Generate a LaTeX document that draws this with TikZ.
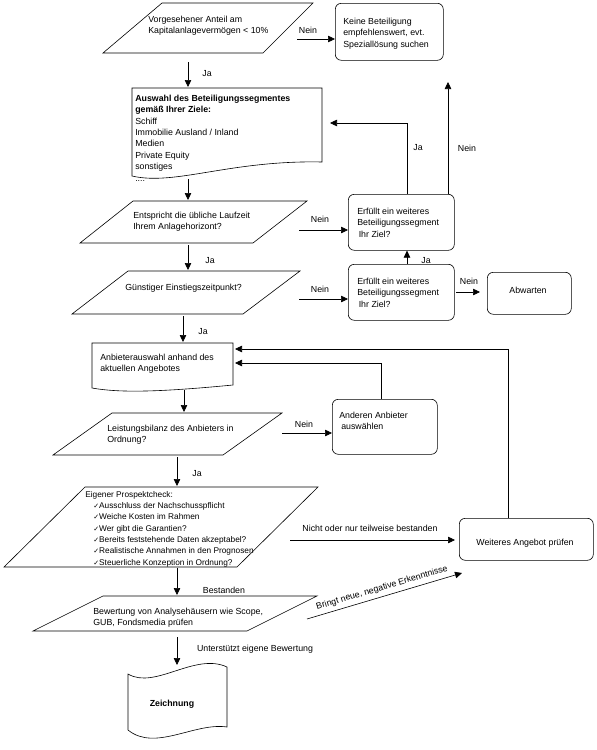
\documentclass[tikz,border=0pt]{standalone}
\usepackage{fontspec}
\setmainfont{Liberation Sans}
\newfontfamily\symfont{DejaVu Sans}
\usetikzlibrary{arrows.meta,calc}
\newcommand{\ck}{{\symfont\fontsize{7}{11.3}\selectfont ✓}}
\begin{document}
\begin{tikzpicture}[x=1pt,y=-1pt,line width=0.6pt,
  arr/.style={-{Triangle[length=7pt,width=6.5pt]}},
  lbl/.style={font=\fontsize{8.8}{10}\selectfont,inner sep=0pt},
  txt/.style={font=\fontsize{8.8}{11.3}\selectfont,align=left,inner sep=0pt,anchor=north west},
  rbox/.style={draw,rounded corners=6pt,inner sep=0pt,anchor=north west},
  shp/.style={draw,line join=miter}]
\useasboundingbox (0,0) rectangle (597,750);

% ---------- shapes ----------
\draw[shp] (162,3) -- (313,3) -- (263,53) -- (103,53) -- cycle;
\node[txt] (t1) at (148,16) {Vorgesehener Anteil am\\Kapitalanlagevermögen < 10\%};

\node[rbox,minimum width=108pt,minimum height=57pt] (keine) at (335,3) {};
\node[txt] (t2) at (343,18) {Keine Beteiligung\\empfehlenswert, evt.\\Speziallösung suchen};

\draw[shp] (132,88) -- (322,88) -- (322,162) .. controls (230,160) and (175,186) .. (132,176) -- cycle;
\node[txt] (t3) at (135,95) {\textbf{Auswahl des Beteiligungssegmentes}\\\textbf{gemäß Ihrer Ziele:}\\Schiff\\Immobilie Ausland / Inland\\Medien\\Private Equity\\sonstiges\\[1pt]....};

\draw[shp] (133,201) -- (307,201) -- (253,243) -- (80,243) -- cycle;
\node[txt] (t4) at (133,212) {Entspricht die übliche Laufzeit\\Ihrem Anlagehorizont?};

\node[rbox,minimum width=106pt,minimum height=56pt] (erf1) at (348,194) {};
\node[txt] (t5) at (357,208) {Erfüllt ein weiteres\\Beteiligungssegment\\\hspace{1.5pt}Ihr Ziel?};

\node[rbox,minimum width=106pt,minimum height=56pt] (erf2) at (348,264) {};
\node[txt] (t6) at (357,278) {Erfüllt ein weiteres\\Beteiligungssegment\\\hspace{1.5pt}Ihr Ziel?};

\node[rbox,minimum width=84pt,minimum height=42pt] (abw) at (487,272) {};
\node[lbl] (t7) at (528,290) {Abwarten};

\draw[shp] (128,271) -- (300,271) -- (243,314) -- (72,314) -- cycle;
\node[txt] (t8) at (125,284) {Günstiger Einstiegszeitpunkt?};

\draw[shp] (92,343) -- (233,343) -- (233,385) .. controls (160,392) and (120,393) .. (92,388) -- cycle;
\node[txt] (t9) at (100,354) {Anbieterauswahl anhand des\\aktuellen Angebotes};

\draw[shp] (112,413) -- (282,413) -- (223,455) -- (53,455) -- cycle;
\node[txt] (t10) at (107,425) {Leistungsbilanz des Anbieters in\\Ordnung?};

\node[rbox,minimum width=105pt,minimum height=55pt] (and) at (332,399) {};
\node[txt] (t11) at (339,412) {Anderen Anbieter\\\hspace{2pt}auswählen};

\draw[shp] (85,487) -- (318,487) -- (237,567) -- (4,567) -- cycle;
\node[txt,font=\fontsize{8.3}{11.3}\selectfont] (t12) at (85,491) {Eigener Prospektcheck:\\
\hspace{8pt}\ck Ausschluss der Nachschusspflicht\\
\hspace{8pt}\ck Weiche Kosten im Rahmen\\
\hspace{8pt}\ck Wer gibt die Garantien?\\
\hspace{8pt}\ck Bereits feststehende Daten akzeptabel?\\
\hspace{8pt}\ck Realistische Annahmen in den Prognosen\\
\hspace{8pt}\ck Steuerliche Konzeption in Ordnung?};

\node[rbox,minimum width=134pt,minimum height=42pt] (weit) at (459,518) {};
\node[lbl] (t13) at (525,543) {Weiteres Angebot prüfen};

\draw[shp] (103,596) -- (317,596) -- (247,631) -- (33,631) -- cycle;
\node[txt] (t14) at (93,608) {Bewertung von Analysehäusern wie Scope,\\GUB, Fondsmedia prüfen};

\draw[shp] (128,674) .. controls (155,690) and (195,652) .. (227,667) -- (227,727)
  .. controls (195,722) and (155,752) .. (128,730) -- cycle;
\node[lbl,font=\bfseries\fontsize{8.8}{10}\selectfont] (t15) at (172,704) {Zeichnung};

% ---------- connector end points ----------
\coordinate (a1s) at (188,62);   \coordinate (a1e) at (188,87);
\coordinate (a2s) at (297,39);
\coordinate (a3s) at (188,179);  \coordinate (a3e) at (188,200);
\coordinate (a4s) at (299,230);
\coordinate (a5s) at (188,245);  \coordinate (a5e) at (188,270);
\coordinate (a6s) at (299,299);
\coordinate (a8s) at (456,292);  \coordinate (a8e) at (480,292);
\coordinate (a9e) at (330,123);
\coordinate (a10e) at (448,82);
\coordinate (a11s) at (183,316); \coordinate (a11e) at (183,342);
\coordinate (a12s) at (184,390); \coordinate (a12e) at (184,412);
\coordinate (a13s) at (282,433);
\coordinate (a14e) at (235,363);
\coordinate (a15e) at (235,349);
\coordinate (a16s) at (177,457); \coordinate (a16e) at (177,486);
\coordinate (a17s) at (290,540); \coordinate (a17e) at (455,540);
\coordinate (a18s) at (177,568); \coordinate (a18e) at (177,595);
\coordinate (a19s) at (307,619); \coordinate (a19e) at (462,573);
\coordinate (a20s) at (177,637); \coordinate (a20e) at (177,665);

% ---------- connectors ----------
\draw[arr] (a1s) -- (a1e);
\draw[arr] (a2s) -- (a2s -| keine.west);
\draw[arr] (a3s) -- (a3e);
\draw[arr] (a4s) -- (a4s -| erf1.west);
\draw[arr] (a5s) -- (a5e);
\draw[arr] (a6s) -- (a6s -| erf2.west);
\draw[arr] (erf2.north -| 407,0) -- (erf1.south -| 407,0);
\draw[arr] (a8s) -- (a8e);
\draw[arr] (erf1.north -| 407,0) |- (a9e);
\draw[arr] (erf1.north -| 448,0) -- (a10e);
\draw[arr] (a11s) -- (a11e);
\draw[arr] (a12s) -- (a12e);
\draw[arr] (a13s) -- (a13s -| and.west);
\draw[arr] (and.north -| 381,0) |- (a14e);
\draw[arr] (weit.north -| 508,0) |- (a15e);
\draw[arr] (a16s) -- (a16e);
\draw[arr] (a17s) -- (a17e);
\draw[arr] (a18s) -- (a18e);
\draw[arr] (a19s) -- (a19e);
\draw[arr] (a20s) -- (a20e);

% ---------- labels ----------
\node[lbl] (l1) at (308,30) {Nein};
\node[lbl] (l2) at (207,74) {Ja};
\node[lbl] (l3) at (418,148) {Ja};
\node[lbl] (l4) at (467,148) {Nein};
\node[lbl] (l5) at (320,219) {Nein};
\node[lbl] (l6) at (210,261) {Ja};
\node[lbl] (l7) at (426,261) {Ja};
\node[lbl] (l8) at (469,281) {Nein};
\node[lbl] (l9) at (320,289) {Nein};
\node[lbl] (l10) at (203,332) {Ja};
\node[lbl] (l11) at (304,424) {Nein};
\node[lbl] (l12) at (197,474) {Ja};
\node[lbl] (l13) at (370,528) {Nicht oder nur teilweise bestanden};
\node[lbl] (l14) at (224,590) {Bestanden};
\node[lbl,rotate=16.5] (l15) at (382,588) {Bringt neue, negative Erkenntnisse};
\node[lbl] (l16) at (255,649) {Unterstützt eigene Bewertung};
\end{tikzpicture}
\end{document}
